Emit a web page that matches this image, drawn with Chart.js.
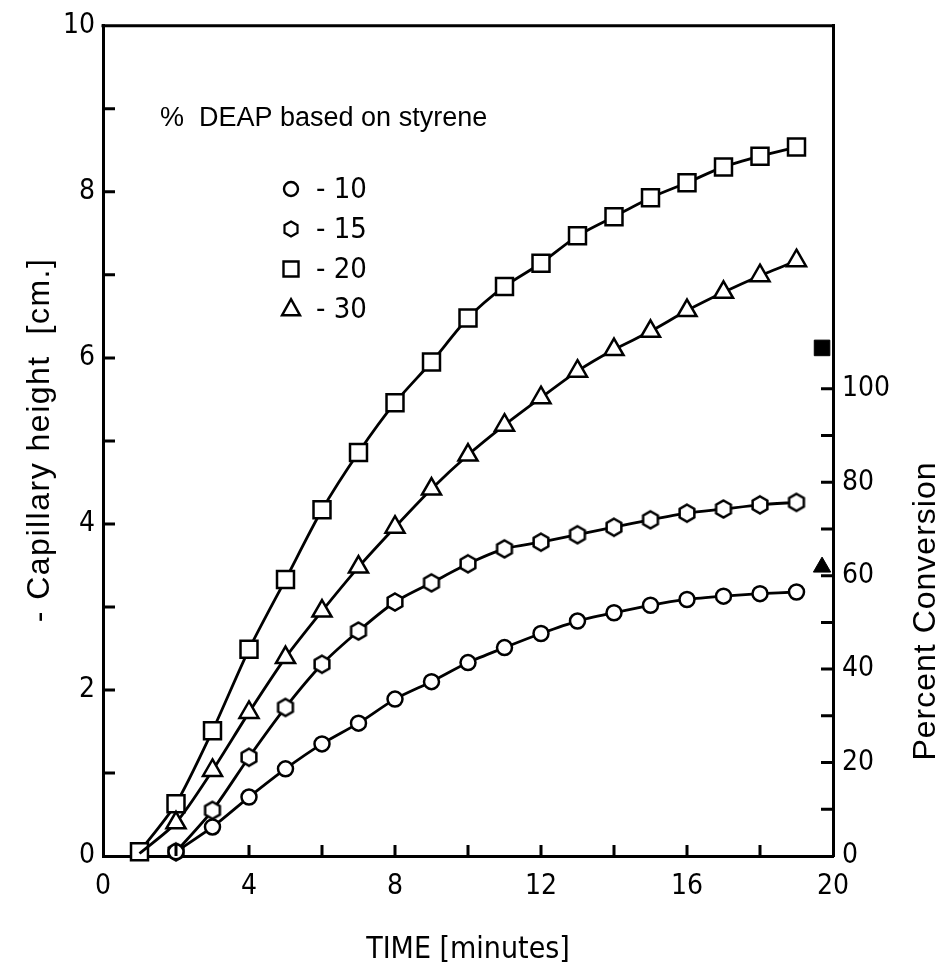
<!DOCTYPE html>
<html>
<head>
<meta charset="utf-8">
<script src="https://cdn.jsdelivr.net/npm/chart.js@4.4.0/dist/chart.umd.min.js"></script>
<style>
  html, body { margin: 0; padding: 0; background: #fff; }
  #wrap { width: 944px; height: 968px; }
</style>
</head>
<body>
<div id="wrap"><canvas id="chart" width="944" height="968"></canvas></div>
<script>
// time axis (minutes) and capillary height (cm) for each % DEAP
const minutes = [1, 2, 3, 4, 5, 6, 7, 8, 9, 10, 11, 12, 13, 14, 15, 16, 17, 18, 19];
const deap10 = [null, 0.05, 0.35, 0.71, 1.05, 1.35, 1.60, 1.89, 2.10, 2.33, 2.51, 2.68, 2.83, 2.93, 3.02, 3.09, 3.13, 3.16, 3.18];
const deap15 = [null, 0.05, 0.55, 1.19, 1.79, 2.31, 2.71, 3.06, 3.29, 3.52, 3.70, 3.78, 3.87, 3.96, 4.05, 4.13, 4.18, 4.23, 4.26];
const deap20 = [0.05, 0.63, 1.51, 2.49, 3.33, 4.17, 4.86, 5.46, 5.95, 6.48, 6.86, 7.14, 7.47, 7.70, 7.93, 8.11, 8.30, 8.43, 8.54];
const deap30 = [0.03, 0.40, 1.03, 1.73, 2.39, 2.95, 3.48, 3.96, 4.42, 4.83, 5.19, 5.52, 5.84, 6.10, 6.32, 6.57, 6.79, 6.99, 7.17];

// filled markers next to the right axis
const endTime = [19.7];
const endSquare = [6.12];
const endTriangle = [3.48];

// tick values
const timeTicks = [0, 2, 4, 6, 8, 10, 12, 14, 16, 18, 20];
const timeLabels = [0, 4, 8, 12, 16, 20];
const heightTicks = [0, 1, 2, 3, 4, 5, 6, 7, 8, 9, 10];
const heightLabels = [0, 2, 4, 6, 8, 10];
const pctTicks = [0, 10, 20, 30, 40, 50, 60, 70, 80, 90, 100];
const pctLabels = [0, 20, 40, 60, 80, 100];

const legendTitle = '%  DEAP based on styrene';
const legendNames = ['- 10', '- 15', '- 20', '- 30'];

const narrow = '"Liberation Sans Narrow", "DejaVu Sans Condensed", sans-serif';
const plain = '"Liberation Sans", Arial, sans-serif';

function pts(ys) {
  return minutes.map((t, i) => ({ x: t, y: ys[i] })).filter(p => p.y !== null);
}

// hexagon marker (pointy top)
function hexMarker(r, lw) {
  const c = document.createElement('canvas');
  const s = Math.ceil(2 * r + lw + 2);
  c.width = c.height = s;
  const g = c.getContext('2d');
  g.beginPath();
  for (let i = 0; i < 6; i++) {
    const a = -Math.PI / 2 + i * Math.PI / 3;
    const px = s / 2 + r * Math.cos(a), py = s / 2 + r * Math.sin(a);
    i ? g.lineTo(px, py) : g.moveTo(px, py);
  }
  g.closePath();
  g.fillStyle = '#fff';
  g.fill();
  g.lineWidth = lw;
  g.strokeStyle = '#000';
  g.stroke();
  return c;
}
const hex15 = hexMarker(8.5, 2.5);
const hexLegend = hexMarker(7.5, 2.2);

function lineSet(ys, style, radius, extra) {
  return Object.assign({
    data: pts(ys),
    borderColor: '#000',
    borderWidth: 2.8,
    tension: 0.25,
    pointStyle: style,
    pointRadius: radius,
    pointBackgroundColor: '#fff',
    pointBorderColor: '#000',
    pointBorderWidth: 2.5,
    clip: false
  }, extra || {});
}

const datasets = [
  lineSet(deap10, 'circle', 7.5),
  lineSet(deap15, hex15, 8),
  lineSet(deap30, 'triangle', 11, { pointRadius: ctx => ctx.dataIndex === 0 ? 0 : 11 }),
  lineSet(deap20, 'rect', 12),
  {
    data: endTime.map((t, i) => ({ x: t, y: endSquare[i] })),
    showLine: false, pointStyle: 'rect', pointRadius: 11,
    pointBackgroundColor: '#000', pointBorderColor: '#000', pointBorderWidth: 1, clip: false
  },
  {
    data: endTime.map((t, i) => ({ x: t, y: endTriangle[i] })),
    showLine: false, pointStyle: 'triangle', pointRadius: 10,
    pointBackgroundColor: '#000', pointBorderColor: '#000', pointBorderWidth: 1, clip: false
  }
];

function drawMarker(ctx, style, x, y, r) {
  if (style instanceof HTMLCanvasElement) {
    ctx.drawImage(style, x - style.width / 2, y - style.height / 2);
    return;
  }
  ctx.beginPath();
  if (style === 'circle') {
    ctx.arc(x, y, r, 0, Math.PI * 2);
  } else if (style === 'rect') {
    ctx.rect(x - r, y - r, 2 * r, 2 * r);
  } else if (style === 'triangle') {
    ctx.moveTo(x, y - r * 1.1);
    ctx.lineTo(x + r, y + r * 0.7);
    ctx.lineTo(x - r, y + r * 0.7);
    ctx.closePath();
  }
  ctx.fillStyle = '#fff';
  ctx.fill();
  ctx.lineWidth = 2.4;
  ctx.strokeStyle = '#000';
  ctx.stroke();
}

// inward ticks, top frame line, legend and axis titles
const decor = {
  id: 'decor',
  afterDraw(chart) {
    const ctx = chart.ctx;
    const a = chart.chartArea;
    const sx = chart.scales.x, sy = chart.scales.y, sy2 = chart.scales.y2;
    ctx.save();
    ctx.strokeStyle = '#000';
    ctx.lineWidth = 3;
    ctx.beginPath();
    ctx.moveTo(a.left - 1.5, a.top);
    ctx.lineTo(a.right + 1.5, a.top);
    timeTicks.slice(1, -1).forEach(v => {
      const p = sx.getPixelForValue(v);
      ctx.moveTo(p, a.bottom); ctx.lineTo(p, a.bottom - 11);
    });
    heightTicks.slice(1, -1).forEach(v => {
      const p = sy.getPixelForValue(v);
      ctx.moveTo(a.left, p); ctx.lineTo(a.left + 12, p);
    });
    pctTicks.slice(1).forEach(v => {
      const p = sy2.getPixelForValue(v);
      ctx.moveTo(a.right, p); ctx.lineTo(a.right - 12, p);
    });
    ctx.stroke();

    // legend
    ctx.fillStyle = '#000';
    ctx.textBaseline = 'middle';
    ctx.textAlign = 'left';
    ctx.font = '27px ' + plain;
    ctx.fillText(legendTitle, 160, 119);
    const styles = ['circle', hexLegend, 'rect', 'triangle'];
    const radii = [7, 7.5, 7.5, 9];
    ctx.font = '29px ' + narrow;
    legendNames.forEach((name, i) => {
      const y = 189 + i * 40;
      drawMarker(ctx, styles[i], 291, y, radii[i]);
      ctx.fillStyle = '#000';
      ctx.fillText(name, 316, y + 1);
    });

    // axis titles
    ctx.fillStyle = '#000';
    ctx.textAlign = 'center';
    ctx.font = '30px ' + narrow;
    ctx.fillText('TIME [minutes]', 468, 950);

    ctx.font = '32px ' + plain;
    ctx.letterSpacing = '1.5px';
    ctx.save();
    ctx.translate(40, 440);
    ctx.rotate(-Math.PI / 2);
    ctx.fillText('- Capillary height  [cm.]', 0, 0);
    ctx.restore();

    ctx.letterSpacing = '1px';
    ctx.save();
    ctx.translate(926, 611);
    ctx.rotate(-Math.PI / 2);
    ctx.fillText('Percent Conversion', 0, 0);
    ctx.restore();
    ctx.restore();
  }
};

const tickFont = { family: narrow, size: 28 };

new Chart(document.getElementById('chart'), {
  type: 'line',
  data: { datasets: datasets },
  options: {
    responsive: false,
    animation: false,
    layout: { padding: { top: 21, left: 0, right: 0, bottom: 0 }, autoPadding: false },
    plugins: { legend: { display: false }, tooltip: { enabled: false } },
    scales: {
      x: {
        type: 'linear', position: 'bottom', min: 0, max: 20,
        grid: { display: false, drawTicks: false },
        border: { display: true, color: '#000', width: 3 },
        afterBuildTicks: s => { s.ticks = timeTicks.map(v => ({ value: v })); },
        ticks: {
          autoSkip: false, maxRotation: 0, padding: 14, color: '#000', font: tickFont,
          callback: v => timeLabels.includes(v) ? String(v) : ''
        },
        afterFit: s => { s.height = 112; }
      },
      y: {
        type: 'linear', position: 'left', min: 0, max: 10,
        grid: { display: false, drawTicks: false },
        border: { display: true, color: '#000', width: 3 },
        afterBuildTicks: s => { s.ticks = heightTicks.map(v => ({ value: v })); },
        ticks: {
          autoSkip: false, padding: 8, color: '#000', font: tickFont,
          callback: v => heightLabels.includes(v) ? String(v) : ''
        },
        afterFit: s => { s.width = 103; }
      },
      y2: {
        type: 'linear', position: 'right', min: 0, max: 177.7,
        grid: { display: false, drawTicks: false },
        border: { display: true, color: '#000', width: 3 },
        afterBuildTicks: s => { s.ticks = pctTicks.map(v => ({ value: v })); },
        ticks: {
          autoSkip: false, padding: 9, color: '#000', font: tickFont,
          callback: v => pctLabels.includes(v) ? String(v) : ''
        },
        afterFit: s => { s.width = 111; }
      }
    }
  },
  plugins: [decor]
});
</script>
</body>
</html>
